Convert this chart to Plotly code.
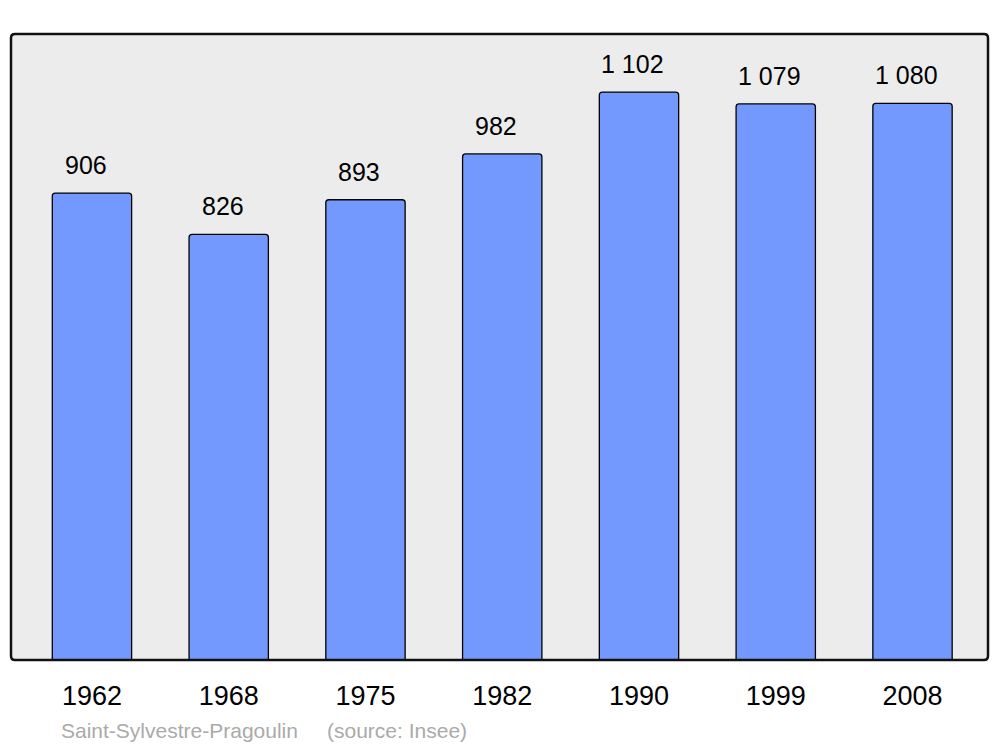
import plotly.graph_objects as go

years = ["1962", "1968", "1975", "1982", "1990", "1999", "2008"]
population = [906, 826, 893, 982, 1102, 1079, 1080]
commune = "Saint-Sylvestre-Pragoulin"
source = "(source: Insee)"

labels = [f"{v:,}".replace(",", " ") for v in population]
FONT = "Liberation Sans, Arial"

fig = go.Figure()
fig.add_trace(go.Bar(
    x=years, y=population, width=0.58,
    marker=dict(color="#7399ff", line=dict(color="#000000", width=1.3)),
    hoverinfo="skip",
))

for i, (v, t) in enumerate(zip(population, labels)):
    fig.add_annotation(x=i, y=v, text=t, showarrow=False, yanchor="bottom",
                       yshift=12, xshift=-6, font=dict(family=FONT, size=25, color="#000"))

rx, ry = 4 / 977, 4 / 626
path = (f"M {rx},0 L {1-rx},0 Q 1,0 1,{ry} L 1,{1-ry} Q 1,1 {1-rx},1 "
        f"L {rx},1 Q 0,1 0,{1-ry} L 0,{ry} Q 0,0 {rx},0 Z")
fig.add_shape(type="path", path=path, xref="paper", yref="paper",
              fillcolor="#ececec", line=dict(width=0), layer="below")
fig.add_shape(type="path", path=path, xref="paper", yref="paper",
              line=dict(color="#111111", width=2.5), layer="above")

fig.add_annotation(x=(58.5 - 11) / 977, y=(660 - 730) / 626, xref="paper", yref="paper",
                   text=commune, showarrow=False, xanchor="left", yanchor="middle",
                   font=dict(family=FONT, size=21, color="#aaaaaa"))
fig.add_annotation(x=(325 - 11) / 977, y=(660 - 730) / 626, xref="paper", yref="paper",
                   text=source, showarrow=False, xanchor="left", yanchor="middle",
                   font=dict(family=FONT, size=21, color="#aaaaaa"))

fig.update_layout(
    width=1000, height=747,
    margin=dict(l=11, r=12, t=34, b=87),
    paper_bgcolor="white", plot_bgcolor="rgba(0,0,0,0)",
    barcornerradius=3,
    showlegend=False,
    font=dict(family=FONT, color="#000"),
    xaxis=dict(type="category", range=[-0.592, 6.552], showgrid=False, zeroline=False,
               showline=False, ticks="", ticklabelstandoff=17,
               tickfont=dict(size=27, color="#000")),
    yaxis=dict(range=[0, 1214.6], visible=False, showgrid=False, zeroline=False),
)

fig.write_html("out.html", config={"displayModeBar": False},
               post_script="document.body.style.margin='0';")
